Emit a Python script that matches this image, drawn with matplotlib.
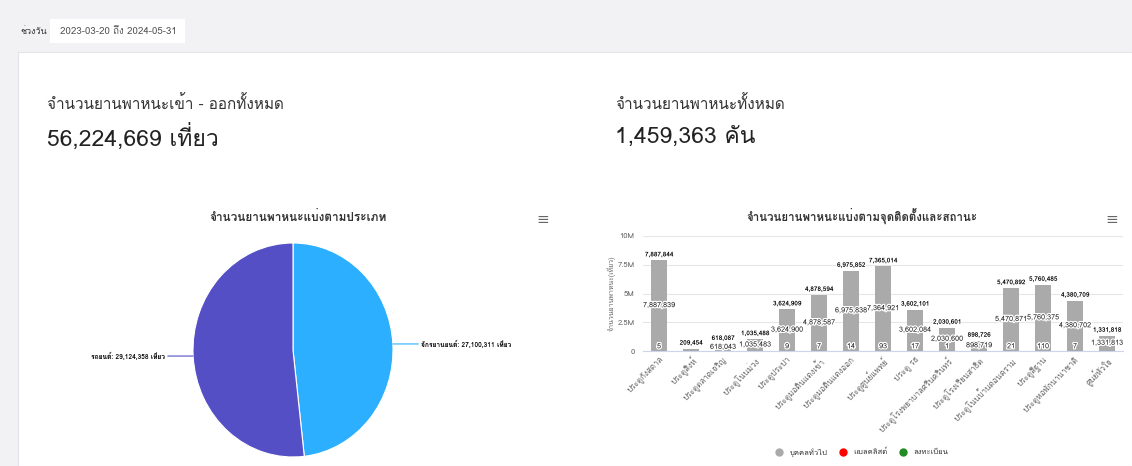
import matplotlib
matplotlib.use('Agg')
import numpy as np
import matplotlib.pyplot as plt
import matplotlib.patheffects as pe
from matplotlib import font_manager
from matplotlib.ft2font import FT2Font
from matplotlib.lines import Line2D
from matplotlib.patches import Rectangle

W, H = 1132, 466

# ---- data ----
date_range = "2023-03-20 ถึง 2024-05-31"
trips_total = "56,224,669 เที่ยว"
vehicles_total = "1,459,363 คัน"

pie_names = ["จักรยานยนต์", "รถยนต์"]
pie_values = [27100311, 29124358]
pie_colors = ["#2caffe", "#544fc5"]

gates = ["ประตูกังสดาล", "ประตูสิงห์", "ประตูตลาดเจริญ", "ประตูโนนม่วง", "ประตูประปา",
         "ประตูมอดินแดงเข้า", "ประตูมอดินแดงออก", "ประตูศูนย์แพทย์", "ประตู รธ",
         "ประตูโรงพยาบาลศรีนครินทร์", "ประตูโรงเรียนสาธิต", "ประตูโนนบ้านดอนคราม",
         "ประตูสีฐาน", "ประตูหอพักนานาชาติ", "ศูนย์หัวใจ"]
general = [7887839, 209450, 618043, 1035483, 3624900, 4878587, 6975838, 7364921,
           3602084, 2030600, 898719, 5470871, 5760375, 4380702, 1331813]
registered = [5, 4, 44, 5, 9, 7, 14, 93, 17, 1, 7, 21, 110, 7, 5]
blacklist = [0] * 15
series_names = ["บุคคลทั่วไป", "แบลคลิสต์", "ลงทะเบียน"]
series_colors = ["#aaaaaa", "#ff0000", "#228b22"]
yticks = [0, 2500000, 5000000, 7500000, 10000000]
ytick_labels = ["0", "2.5M", "5M", "7.5M", "10M"]


def thai_font():
    for f in font_manager.fontManager.ttflist:
        try:
            if 0x0E01 in FT2Font(f.fname).get_charmap():
                return f.name
        except Exception:
            pass
    return None


tf = thai_font()
plt.rcParams['font.family'] = [tf, 'DejaVu Sans'] if tf else ['DejaVu Sans']


def fx(x):
    return x / W


def fy(y):
    return 1 - y / H


def box(x0, y0, x1, y1):
    return [fx(x0), fy(y1), (x1 - x0) / W, (y1 - y0) / H]


fig = plt.figure(figsize=(W / 100, H / 100), dpi=100, facecolor='#f2f2f5')

# page background pieces (behind the axes)
fig.patches.append(Rectangle((fx(18), 0), 1 - fx(18), fy(52), transform=fig.transFigure,
                             facecolor='white', edgecolor='#e4e4e8', lw=0.8, zorder=-5))
fig.patches.append(Rectangle((fx(50), fy(43)), (185 - 50) / W, 24 / H, transform=fig.transFigure,
                             facecolor='white', edgecolor='none', zorder=-5))
fig.text(fx(20), fy(31), "ช่วงวัน", fontsize=6.5, color='#333333', va='center')
fig.text(fx(60), fy(31), date_range, fontsize=7, color='#555555', va='center')

# headline numbers
fig.text(fx(47), fy(104), "จำนวนยานพาหนะเข้า - ออกทั้งหมด", fontsize=11, color='#333333', va='center')
fig.text(fx(47), fy(137), trips_total, fontsize=16.5, color='#222222', va='center')
fig.text(fx(615), fy(104), "จำนวนยานพาหนะทั้งหมด", fontsize=11, color='#333333', va='center')
fig.text(fx(615), fy(137), vehicles_total, fontsize=16.5, color='#222222', va='center')

# chart titles + menu icons
fig.text(fx(298), fy(216), "จำนวนยานพาหนะแบ่งตามประเภท", fontsize=8.5, weight='bold',
         color='#333333', ha='center', va='center')
fig.text(fx(862), fy(216), "จำนวนยานพาหนะแบ่งตามจุดติดตั้งและสถานะ", fontsize=8.3, weight='bold',
         color='#333333', ha='center', va='center')
for xm in (543, 1112):
    fig.text(fx(xm), fy(220), "≡", fontsize=11, color='#666666', ha='center', va='center')

# ---- pie ----
ax1 = fig.add_axes(box(193, 243, 393, 457))
wedges, _ = ax1.pie(pie_values, colors=pie_colors, startangle=90, counterclock=False,
                    wedgeprops=dict(edgecolor='white', linewidth=0.8))
ax1.set_aspect('auto')
ax1.set_xlim(-1, 1)
ax1.set_ylim(-1, 1)
for w, name, val, col in zip(wedges, pie_names, pie_values, pie_colors):
    ang = np.deg2rad((w.theta1 + w.theta2) / 2)
    x, y = np.cos(ang), np.sin(ang)
    side = 1 if x > 0 else -1
    ax1.annotate(f"{name}: {val:,} เที่ยว", xy=(x, y), xytext=(side * 1.28, y),
                 ha='left' if side > 0 else 'right', va='center', fontsize=4.8, weight='bold',
                 color='#000000', annotation_clip=False,
                 arrowprops=dict(arrowstyle='-', color=col, lw=0.8, shrinkA=0, shrinkB=0))

# ---- bars ----
ax2 = fig.add_axes(box(643, 236, 1123, 351))
xs = np.arange(len(gates))
totals = [g + r + b for g, r, b in zip(general, registered, blacklist)]
ax2.bar(xs, registered, width=0.47, color=series_colors[2], zorder=3)
ax2.bar(xs, general, width=0.47, bottom=registered, color=series_colors[0], zorder=3)
ax2.set_ylim(0, 10000000)
ax2.set_xlim(-0.5, len(gates) - 0.5)
ax2.set_yticks(yticks)
ax2.set_yticklabels(ytick_labels)
ax2.grid(axis='y', color='#e6e6e6', lw=0.8, zorder=0)
for s in ('top', 'right', 'left'):
    ax2.spines[s].set_visible(False)
ax2.spines['bottom'].set_color('#ccd6eb')
ax2.tick_params(axis='y', length=0, labelsize=5.5, labelcolor='#666666', pad=6)
ax2.tick_params(axis='x', length=0, labelsize=5.8, labelcolor='#666666', pad=3)
ax2.set_xticks(xs)
ax2.set_xticklabels(gates, rotation=45, ha='right', rotation_mode='anchor')
ax2.set_ylabel("จำนวนยานพาหนะ(เที่ยว)", fontsize=5, color='#666666', labelpad=1)

halo = [pe.withStroke(linewidth=1.8, foreground='white')]
for x, t, g, r in zip(xs, totals, general, registered):
    ax2.text(x, t + 250000, f"{t:,}", ha='center', va='bottom', fontsize=4.6, weight='bold',
             color='#000000', path_effects=halo, zorder=5)
    if g > 400000:
        ax2.text(x, r + g / 2, f"{g:,}", ha='center', va='center', fontsize=5.2,
                 color='#222222', path_effects=halo, zorder=5)
    if g > 1800000 and r > 0:
        ax2.text(x, 60000, f"{r:,}", ha='center', va='bottom', fontsize=5.2,
                 color='#222222', path_effects=halo, zorder=5)

handles = [Line2D([], [], marker='o', ls='none', markersize=5, color=c) for c in series_colors]
fig.legend(handles, series_names, loc='center', bbox_to_anchor=(fx(860), fy(452)), ncol=3,
           frameon=False, fontsize=5.5, handletextpad=0.3, columnspacing=1.1,
           labelcolor='#333333')

fig.savefig('out.png', dpi=100, facecolor=fig.get_facecolor())
